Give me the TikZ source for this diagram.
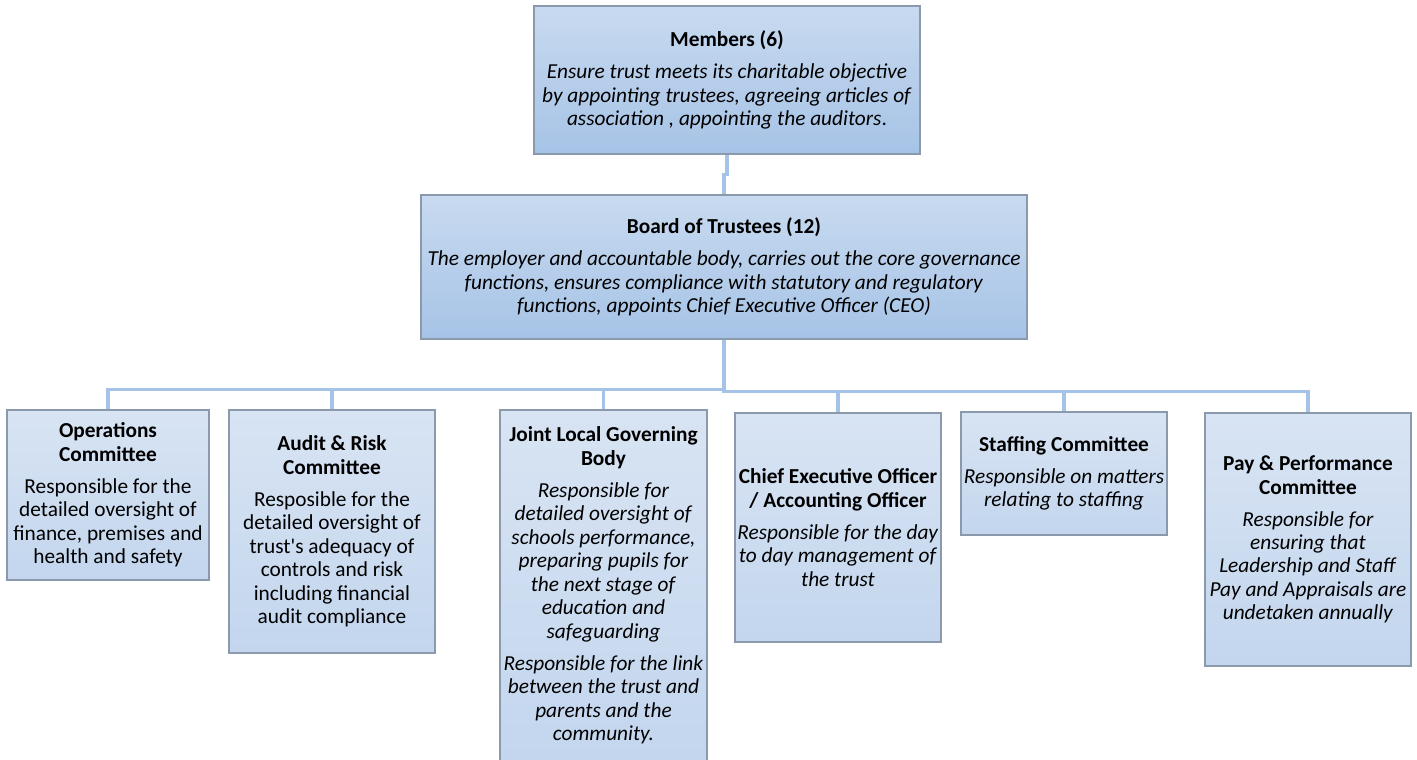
\documentclass[tikz,border=0pt]{standalone}
\usepackage{fontspec}
\newfontfamily\carlito{Carlito}
\definecolor{bordercol}{HTML}{8A99AC}
\definecolor{conncol}{HTML}{A5C3E6}
\definecolor{darktop}{HTML}{C8DAF0}
\definecolor{darkbot}{HTML}{A6C3E6}
\definecolor{lighttop}{HTML}{D8E4F3}
\definecolor{lightbot}{HTML}{C3D6EE}
\tikzset{
  boxbase/.style={draw=bordercol, line width=1pt, align=center, inner sep=0pt,
    font=\carlito\fontsize{16}{17.6}\selectfont},
  darkbox/.style={boxbase, top color=darktop, bottom color=darkbot},
  lightbox/.style={boxbase, top color=lighttop, bottom color=lightbot},
  conn/.style={draw=conncol, line width=2.3pt},
}
\newcommand{\gap}{\\[6.4pt]}
\begin{document}
\begin{tikzpicture}[x=0.75pt,y=-0.75pt]
\useasboundingbox (0,0) rectangle (1417,760);
\node[darkbox, minimum width=289.5pt, minimum height=111pt] (mem) at (727,80)
 {\textbf{Members (6)}\gap
  \textit{Ensure trust meets its charitable objective}\\
  \textit{by appointing trustees, agreeing articles of}\\
  \textit{association , appointing the auditors}.};
\node[darkbox, minimum width=454.5pt, minimum height=108pt] (board) at (724,267)
 {\textbf{Board of Trustees (12)}\gap
  \textit{The employer and accountable body, carries out the core governance}\\
  \textit{functions, ensures compliance with statutory and regulatory}\\
  \textit{functions, appoints Chief Executive Officer (CEO)}};
\node[lightbox, minimum width=151.5pt, minimum height=127.5pt] (ops) at (108,495)
 {\textbf{Operations}\\\textbf{Committee}\gap
  Responsible for the\\detailed oversight of\\finance, premises and\\health and safety};
\node[lightbox, minimum width=154.5pt, minimum height=182.25pt] (audit) at (332,531.5)
 {\textbf{Audit \& Risk}\\\textbf{Committee}\gap
  Resposible for the\\detailed oversight of\\trust's adequacy of\\controls and risk\\including financial\\audit compliance};
\node[lightbox, minimum width=155.25pt, minimum height=263.25pt] (jlgb) at (603.5,585.5)
 {\textbf{Joint Local Governing}\\\textbf{Body}\gap
  \textit{Responsible for}\\\textit{detailed oversight of}\\\textit{schools performance,}\\\textit{preparing pupils for}\\\textit{the next stage of}\\\textit{education and}\\\textit{safeguarding}\gap
  \textit{Responsible for the link}\\\textit{between the trust and}\\\textit{parents and the}\\\textit{community.}};
\node[lightbox, minimum width=154.5pt, minimum height=171.75pt] (ceo) at (838,527.5)
 {\textbf{Chief Executive Officer}\\\textbf{/ Accounting Officer}\gap
  \textit{Responsible for the day}\\\textit{to day management of}\\\textit{the trust}};
\node[lightbox, minimum width=154.5pt, minimum height=92.25pt] (staff) at (1064,473.5)
 {\textbf{Staffing Committee}\gap
  \textit{Responsible on matters}\\\textit{relating to staffing}};
\node[lightbox, minimum width=154.5pt, minimum height=189.75pt] (pay) at (1308,539.5)
 {\textbf{Pay \& Performance}\\\textbf{Committee}\gap
  \textit{Responsible for}\\\textit{ensuring that}\\\textit{Leadership and Staff}\\\textit{Pay and Appraisals are}\\\textit{undetaken annually}};
\draw[conn] (mem.south) -- ++(0,19.5) -| (board.north);
\draw[conn] (board.south) -- ++(0,50) -| (ops.north);
\draw[conn] (board.south) -- ++(0,50) -| (audit.north);
\draw[conn] (board.south) -- ++(0,50) -| (jlgb.north);
\draw[conn] (board.south) -- ++(0,52) -| (ceo.north);
\draw[conn] (board.south) -- ++(0,52) -| (staff.north);
\draw[conn] (board.south) -- ++(0,52) -| (pay.north);
\end{tikzpicture}
\end{document}
